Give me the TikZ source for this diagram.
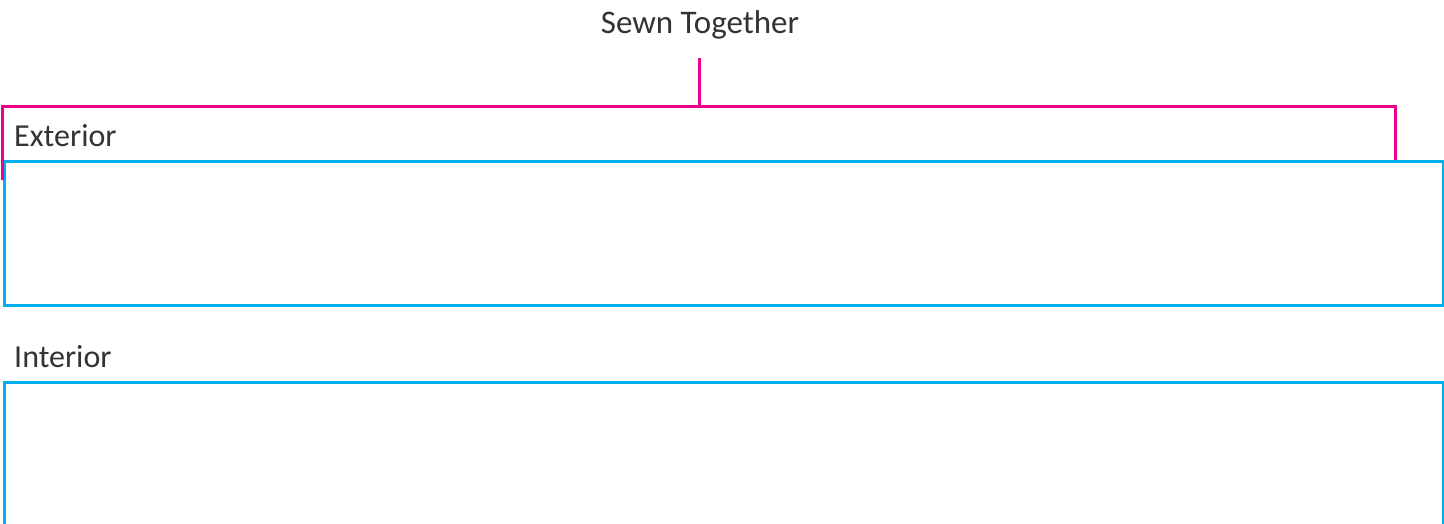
\documentclass[tikz,border=0pt]{standalone}
\usepackage{fontspec}
\setmainfont{Carlito}
\definecolor{seam}{HTML}{EC008C}
\definecolor{panel}{HTML}{00AEEF}
\definecolor{ink}{HTML}{333333}
\begin{document}
\begin{tikzpicture}[x=1pt,y=-1pt,
  panelbox/.style={draw=panel,line width=3pt,inner sep=0pt,anchor=north west},
  lbl/.style={text=ink,inner sep=0pt,anchor=base west,font=\fontsize{32}{36}\selectfont},
  seamline/.style={draw=seam,line width=3pt}]
\useasboundingbox (0,0) rectangle (1444,524);
\node[lbl,anchor=base] (sewn) at (700,34) {\fontsize{33}{36}\selectfont Sewn Together};
\node[lbl] (extlbl) at (14,147) {Exterior};
\node[lbl] (intlbl) at (14,367) {Interior};
\node[panelbox,minimum width=1439,minimum height=144] (ext) at (3,160) {};
\node[panelbox,minimum width=1439,minimum height=150] (int) at (3,381) {};
\coordinate (stemtop) at (699,58);
\coordinate (stembot) at (699,107);
\coordinate (bl) at (2,180);
\coordinate (br) at (1395,160);
\draw[seamline] (stemtop) -- (stembot);
\draw[seamline] (bl) -- (bl |- stembot) -- (br |- stembot) -- (br);
\end{tikzpicture}
\end{document}
